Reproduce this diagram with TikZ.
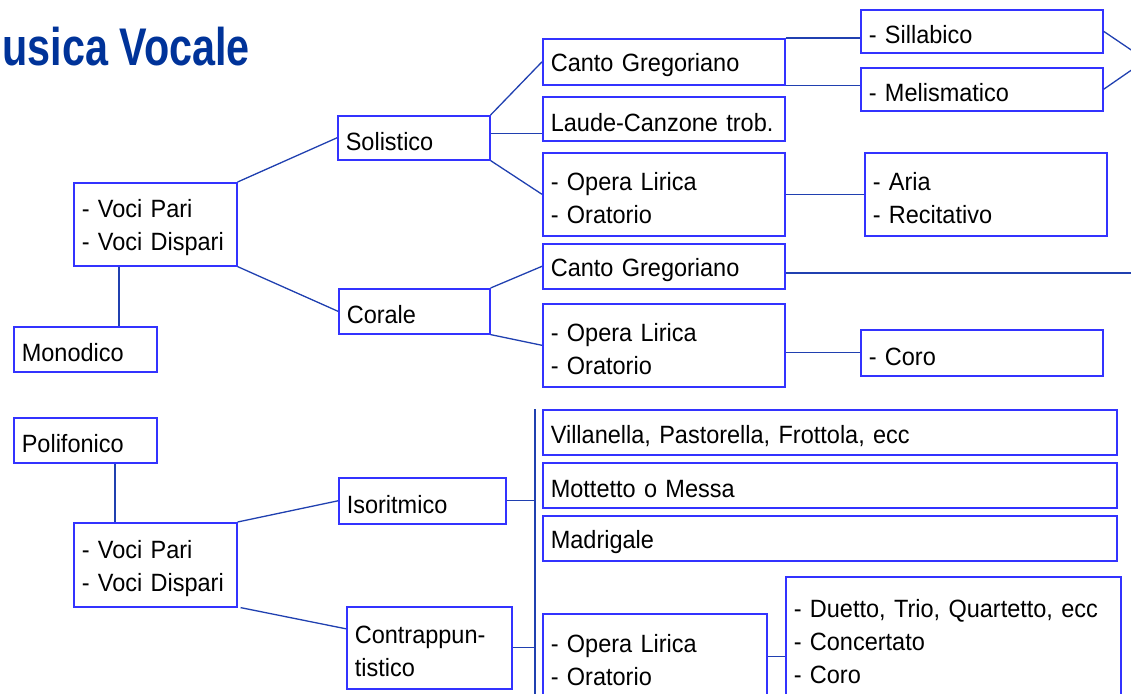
\documentclass[tikz,border=0pt]{standalone}
\usepackage{fontspec}
\setmainfont[FakeStretch=0.94]{Liberation Sans}
\newfontfamily\titlefont[FakeStretch=0.78]{Liberation Sans}
\usepackage{tikz}
\definecolor{boxblue}{RGB}{51,51,255}
\definecolor{lineblue}{RGB}{32,64,176}
\definecolor{titleblue}{RGB}{0,51,153}
\newcommand{\bodysize}{\fontsize{25}{33}\selectfont\fontdimen2\font=5pt}

\begin{document}
\begin{tikzpicture}[x=1pt,y=-1pt,
    box/.style={draw=boxblue, line width=1.6pt, anchor=north west, inner xsep=8pt, inner ysep=0pt, align=left, font=\bodysize,
      execute at begin node={\rule{0pt}{25pt}}},
    link/.style={draw=lineblue, line width=1.3pt}]
\useasboundingbox (0,0) rectangle (1131,693);
\clip (0,0) rectangle (1131,693);

\node[anchor=base east, inner sep=0pt, text=titleblue, font=\titlefont\bfseries\fontsize{53}{60}\selectfont] (title) at (250,66) {usica Vocale};

% monodico
\node[box, text width=147pt, minimum height=83pt] (vp1) at (73,182) {- Voci Pari\\- Voci Dispari};
\node[box, text width=127pt, minimum height=45pt] (mono) at (13,326) {Monodico};
\node[box, text width=136pt, minimum height=44pt] (sol) at (337,115) {Solistico};
\node[box, text width=135pt, minimum height=45pt] (cor) at (338,288) {Corale};
\node[box, text width=226pt, minimum height=46pt] (cg1) at (542,38) {Canto Gregoriano};
\node[box, text width=226pt, minimum height=44pt] (laude) at (542,96) {Laude-Canzone trob.};
\node[box, text width=226pt, minimum height=83pt] (ol1) at (542,152) {- Opera Lirica\\- Oratorio};
\node[box, text width=226pt, minimum height=43pt] (sill) at (860,9) {- Sillabico};
\node[box, text width=226pt, minimum height=43pt] (meli) at (860,67) {- Melismatico};
\node[box, text width=226pt, minimum height=83pt] (aria) at (864,152) {- Aria\\- Recitativo};
\node[box, text width=226pt, minimum height=45pt] (cg2) at (542,243) {Canto Gregoriano};
\node[box, text width=226pt, minimum height=83pt] (ol2) at (542,303) {- Opera Lirica\\- Oratorio};
\node[box, text width=226pt, minimum height=46pt] (coro) at (860,329) {- Coro};

% polifonico
\node[box, text width=127pt, minimum height=45pt] (poli) at (13,417) {Polifonico};
\node[box, text width=147pt, minimum height=84pt] (vp2) at (73,522) {- Voci Pari\\- Voci Dispari};
\node[box, text width=151pt, minimum height=46pt] (iso) at (338,477) {Isoritmico};
\node[box, text width=149pt, minimum height=82pt] (contr) at (346,606) {Contrappun-\\tistico};
\node[box, text width=558pt, minimum height=45pt] (vill) at (542,409) {Villanella, Pastorella, Frottola, ecc};
\node[box, text width=558pt, minimum height=45pt] (mott) at (542,462) {Mottetto o Messa};
\node[box, text width=558pt, minimum height=45pt] (madr) at (542,515) {Madrigale};
\node[box, text width=208pt, minimum height=85pt] (ol3) at (542,613) {- Opera Lirica\\- Oratorio};
\node[box, text width=319pt, minimum height=122pt, execute at begin node={}] (duet) at (785,576) {- Duetto, Trio, Quartetto, ecc\\- Concertato\\- Coro};

\coordinate (mtop) at ([xshift=46pt]vp1.south west);
\coordinate (ptop) at ([xshift=102pt]poli.south west);
\coordinate (lmid) at ([yshift=4pt]sol.east);
\coordinate (join) at (1146,60);
\coordinate (gout) at (1140,273);
\coordinate (bartop) at (535,409);
\coordinate (barend) at (535,700);

\draw[link] (mtop) -- (mtop |- mono.north); % voci -> monodico
\draw[link] (vp1.north east) -- (sol.west);
\draw[link] (vp1.south east) -- (cor.west);
\draw[link] (sol.north east) -- (cg1.west);
\draw[link] (lmid) -- (lmid -| laude.west);
\draw[link] (sol.south east) -- (ol1.west);
\draw[link] (cg1.north east) -- (cg1.north east -| sill.west);
\draw[link] (cg1.south east) -- (cg1.south east -| meli.west);
\draw[link] (sill.east) -- (join) -- (meli.east); % runs off the page
\draw[link] (ol1.east) -- (aria.west);
\draw[link] (cor.north east) -- (cg2.west);
\draw[link] (cor.south east) -- (ol2.west);
\draw[link] (gout -| cg2.east) -- (gout);
\draw[link] (ol2.east |- coro.west) -- (coro.west);

\draw[link] (ptop) -- (ptop |- vp2.north); % polifonico -> voci
\draw[link] (vp2.north east) -- (iso.west);
\draw[link] ([xshift=3pt]vp2.south east) -- ([yshift=19pt]contr.west);
\draw[link] (bartop) -- (barend);
\draw[link] (iso.east) -- (iso.east -| bartop);
\draw[link] (contr.east) -- (contr.east -| bartop);
\draw[link] (ol3.east) -- (ol3.east -| duet.west);
\end{tikzpicture}
\end{document}
